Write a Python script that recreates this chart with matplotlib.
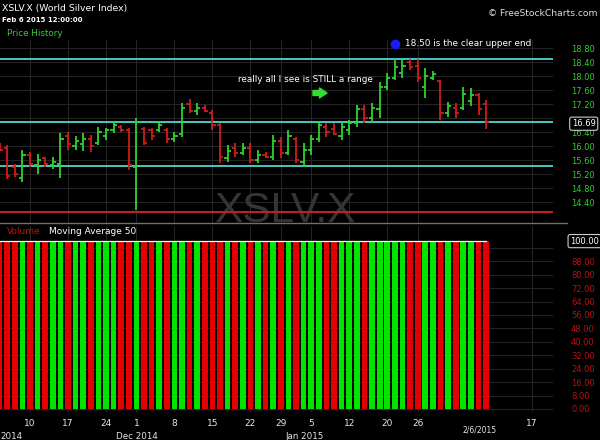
import numpy as np
import pandas as pd
import matplotlib
matplotlib.use('Agg')
import matplotlib.pyplot as plt
from matplotlib.lines import Line2D

# trading days on the axis (incl. the empty days after the last bar)
holidays = ['2014-11-27', '2014-12-25', '2015-01-01', '2015-01-19', '2015-02-16']
days = pd.bdate_range('2014-11-04', '2015-02-20')
days = days[~days.isin(pd.to_datetime(holidays))]

# daily OHLC, Nov 4 2014 .. Feb 6 2015
opens = [16.05, 15.95, 15.40, 15.10, 15.75, 15.45, 15.65, 15.45, 15.50, 16.30,
         16.00, 16.05, 16.20, 16.10, 16.30, 16.45, 16.55, 16.45,
         15.40, 16.50, 16.45, 16.45, 16.45, 16.20, 16.35, 17.20, 17.00, 17.10,
         16.95, 16.60, 15.65, 15.95, 15.80, 15.95, 15.60, 15.75, 15.70, 16.15,
         15.80, 16.20,
         15.55, 15.90, 16.20, 16.55, 16.50, 16.30, 16.45, 16.65, 17.05, 16.80,
         17.05, 17.70, 17.95, 18.10, 18.40, 18.30, 17.70, 17.95, 17.85, 16.95,
         17.10, 17.10, 17.30, 17.45, 17.20]
highs = [16.08, 16.02, 15.50, 15.88, 15.83, 15.76, 15.70, 15.70, 16.37, 16.40,
         16.30, 16.37, 16.31, 16.54, 16.51, 16.69, 16.60, 16.51,
         16.80, 16.54, 16.51, 16.69, 16.52, 16.41, 17.22, 17.34, 17.22, 17.17,
         17.03, 16.65, 16.03, 16.08, 16.08, 16.08, 15.89, 15.84, 16.31, 16.27,
         16.46, 16.27,
         16.08, 16.31, 16.69, 16.65, 16.65, 16.65, 16.74, 17.17, 17.17, 17.22,
         17.84, 18.08, 18.50, 18.46, 18.50, 18.50, 18.22, 18.13, 17.89, 17.27,
         17.22, 17.70, 17.65, 17.51, 17.32]
lows = [15.85, 15.05, 15.12, 14.98, 15.40, 15.20, 15.40, 15.35, 15.10, 15.89,
        15.88, 15.85, 15.83, 16.03, 16.17, 16.37, 16.40, 15.31,
        14.17, 16.03, 16.17, 16.40, 16.08, 16.12, 16.27, 16.93, 16.88, 16.96,
        16.46, 15.51, 15.55, 15.70, 15.75, 15.51, 15.51, 15.65, 15.60, 15.65,
        15.75, 15.51,
        15.41, 15.75, 16.12, 16.27, 16.31, 16.17, 16.31, 16.55, 16.65, 16.69,
        16.79, 17.60, 17.89, 17.94, 18.17, 17.84, 17.36, 17.89, 16.74, 16.84,
        16.79, 17.03, 17.13, 16.89, 16.50]
closes = [15.90, 15.15, 15.20, 15.75, 15.50, 15.60, 15.50, 15.55, 16.20, 16.05,
          16.15, 16.20, 16.00, 16.40, 16.45, 16.60, 16.45, 15.45,
          16.70, 16.10, 16.30, 16.60, 16.20, 16.30, 17.10, 17.00, 17.10, 17.00,
          16.60, 15.70, 15.85, 15.80, 15.95, 15.60, 15.75, 15.70, 16.15, 15.80,
          16.30, 15.60,
          15.90, 16.20, 16.60, 16.40, 16.35, 16.55, 16.65, 17.05, 16.80, 17.10,
          17.70, 17.95, 18.25, 18.30, 18.25, 17.95, 18.00, 18.05, 16.95, 17.15,
          16.95, 17.50, 17.45, 17.05, 16.69]
volume = [100] * len(closes)

levels = [18.50, 16.69, 15.43]   # cyan range lines
floor_level = 14.12              # red line

tick_days = ['2014-11-10', '2014-11-17', '2014-11-24', '2014-12-01', '2014-12-08',
             '2014-12-15', '2014-12-22', '2014-12-29', '2015-01-05', '2015-01-12',
             '2015-01-20', '2015-01-26', '2015-02-17']
tick_labels = ['10', '17', '24', '1', '8', '15', '22', '29', '5', '12', '20', '26', '17']

price_ticks = np.round(np.arange(14.4, 18.81, 0.4), 2)
vol_ticks = np.arange(0, 97, 8)

# ---------------------------------------------------------------
W, H = 600, 440
def box(l, t, r, b):
    return [l / W, 1 - b / H, (r - l) / W, (b - t) / H]

fig = plt.figure(figsize=(6, 4.4), dpi=100, facecolor='black')
ax = fig.add_axes(box(0, 40, 553, 223))
axv = fig.add_axes(box(0, 226, 553, 412))

x = np.arange(len(closes))
pos = [days.get_loc(pd.Timestamp(d)) for d in tick_days]
up = np.array(closes) >= np.array(opens)
pcol = np.where(up, '#2fd22f', '#d41a1a')
vcol = np.where(up, '#00e400', '#e40000')

grid_c = '#242424'
for a in (ax, axv):
    a.set_facecolor('black')
    for s in a.spines.values():
        s.set_visible(False)
    a.set_xlim(0.05, 72.8)
    a.set_xticks(pos)
    a.grid(True, color=grid_c, lw=0.8)
    a.set_axisbelow(True)
    a.yaxis.tick_right()

# price panel
ax.set_ylim(13.8, 19.03)
ax.set_yticks(price_ticks)
ax.set_yticklabels(['' if abs(v - 16.8) < 0.01 else '%.2f' % v for v in price_ticks])
ax.tick_params(axis='y', length=0, pad=13, labelcolor='#2ecc2e', labelsize=6)
ax.tick_params(axis='x', length=0, labelbottom=False)

ax.text(0.514, 0.005, 'XSLV.X', transform=ax.transAxes, ha='center', va='baseline',
        fontsize=30.5, color='#353535', family='Liberation Sans', zorder=1, clip_on=True)

for lv in levels:
    ax.axhline(lv, color='#4fd6d0', lw=1.3, zorder=2)
ax.axhline(floor_level, color='#c02020', lw=1.5, zorder=2)

ax.vlines(x, lows, highs, colors=pcol, lw=1.3, zorder=3)
ax.hlines(opens, x - 0.42, x, colors=pcol, lw=1.3, zorder=3)
ax.hlines(closes, x, x + 0.42, colors=pcol, lw=1.3, zorder=3)

ax.text(1.034, (closes[-1] - 13.8) / (19.03 - 13.8) - 0.01, '%.2f' % closes[-1],
        transform=ax.transAxes, ha='left', va='center', fontsize=6, color='white',
        bbox=dict(boxstyle='round,pad=0.25', fc='black', ec='#cccccc', lw=0.8))

# volume panel
axv.set_ylim(-1.8, 109)
axv.bar(x, volume, width=0.74, color=vcol, zorder=2)
ma50 = pd.Series(volume).rolling(50, min_periods=1).mean()
axv.plot(x, ma50, color='white', lw=0.9, zorder=3)
axv.set_yticks(vol_ticks)
axv.set_yticklabels(['' if v == 96 else '%.2f' % v for v in vol_ticks])
axv.tick_params(axis='y', length=0, pad=13, labelcolor='#b81010', labelsize=6)
axv.set_xticklabels(tick_labels)
axv.tick_params(axis='x', length=0, pad=5, labelcolor='#e6e6e6', labelsize=6.5)
axv.text(1.031, (100 + 1.8) / 110.8, '100.00', transform=axv.transAxes, ha='left',
         va='center', fontsize=6, color='white',
         bbox=dict(boxstyle='round,pad=0.25', fc='black', ec='#cccccc', lw=0.8))
axv.text(x[-1] - 0.8, -0.075, '2/6/2015', transform=axv.get_xaxis_transform(),
         ha='center', va='top', fontsize=5.5, color='#e6e6e6')

# separator
fig.add_artist(Line2D([0, 567 / W], [1 - 223 / H] * 2, color='#707070', lw=1))

# header texts
def ftext(px, py, s, **kw):
    fig.text(px / W, 1 - py / H, s, va='center', **kw)

ftext(2, 8, 'XSLV.X (World Silver Index)', color='white', fontsize=6.7)
ftext(2, 20, 'Feb 6 2015 12:00:00', color='white', fontsize=5, fontweight='bold')
ftext(7, 34, 'Price History', color='#36cc36', fontsize=6.3)
ftext(598, 14, '\u00a9 FreeStockCharts.com', color='#dddddd', fontsize=6.6, ha='right')
ftext(405, 44, '18.50 is the clear upper end', color='white', fontsize=6.4)
ftext(238, 79, 'really all I see is STILL a range', color='white', fontsize=6.4)
ftext(7, 232, 'Volume', color='#c01010', fontsize=6.5)
ftext(49, 232, 'Moving Average 50', color='white', fontsize=6.5)
ftext(0, 436, '2014', color='#e6e6e6', fontsize=6.3, ha='left')
ftext(137, 436, 'Dec 2014', color='#e6e6e6', fontsize=6.3, ha='center')
ftext(305, 436, 'Jan 2015', color='#e6e6e6', fontsize=6.3, ha='center')

ax.plot([395 / W], [1 - 44 / H], 'o', ms=6, color='#1a1aff', transform=fig.transFigure,
        clip_on=False)
ax.annotate('', xy=(327 / W, 1 - 93 / H), xytext=(313 / W, 1 - 93 / H),
            xycoords='figure fraction', textcoords='figure fraction',
            arrowprops=dict(arrowstyle='simple,head_length=0.6,head_width=0.8,tail_width=0.4',
                            color='#33dd33', mutation_scale=9, shrinkA=0, shrinkB=0))

fig.savefig('out.png', dpi=100, facecolor='black')
